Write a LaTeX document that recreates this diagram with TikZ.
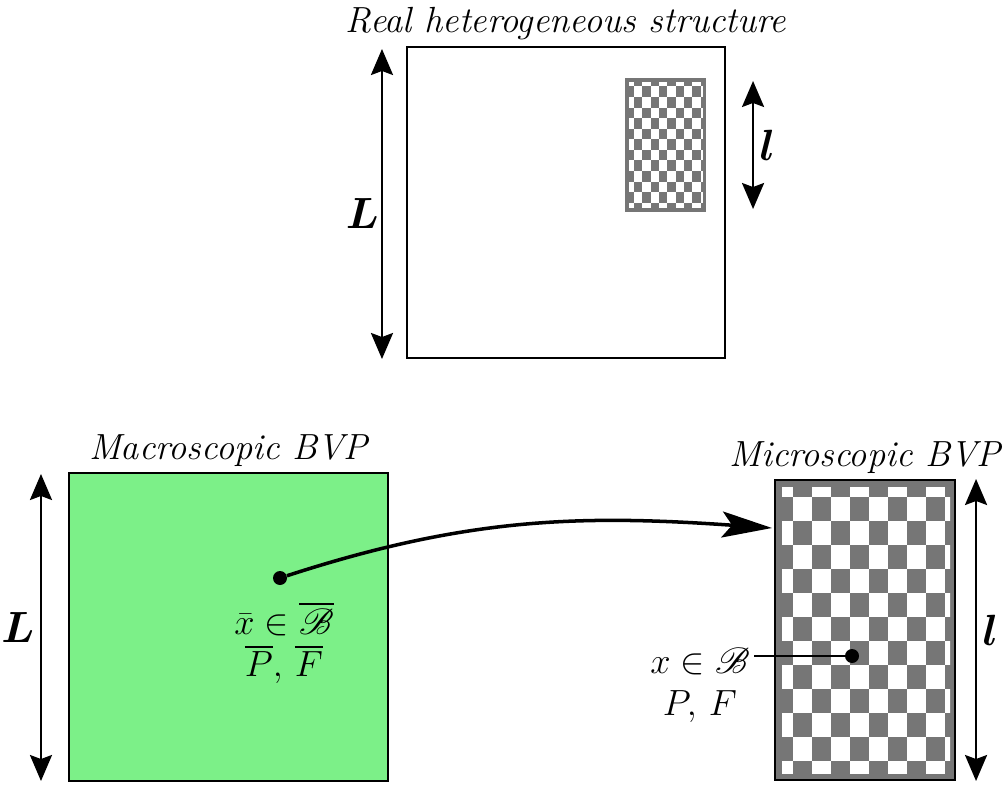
\documentclass[tikz,border=0pt]{standalone}
\usepackage{amsmath,amssymb}
\usepackage{mathrsfs}
\usepackage{xcolor}
\usepackage{tikz}
\usetikzlibrary{arrows.meta,positioning,calc}
\definecolor{macrogreen}{RGB}{124,240,136}
\definecolor{cellgray}{RGB}{118,118,118}

% checker pattern, local frame 180 x 300 (y down)
\newcommand{\checkerboard}{%
  \fill[cellgray] (0,0) rectangle (180,300);
  \begin{scope}
    \clip (7,7) rectangle (175,293);
    \foreach \r in {0,...,12}
      \foreach \c in {0,...,9}{
        \pgfmathtruncatemacro{\cellpar}{mod(\r+\c,2)}
        \ifnum\cellpar=0
          \fill[white] (\c*19-1,\r*24-7) rectangle ++(19,24);
        \fi
      }
  \end{scope}
}

\begin{document}
\begin{tikzpicture}[
    x=0.02cm, y=-0.02cm,
    box/.style={rectangle, draw, line width=1.2pt, inner sep=0pt},
    title/.style={font=\fontsize{20.7}{24}\selectfont\itshape, inner sep=2pt},
    lab/.style={font=\fontsize{21}{26}\selectfont, align=center, inner sep=2pt},
    dimlab/.style={font=\fontsize{27}{30}\selectfont, inner sep=2pt},
    dim/.style={{Stealth[length=0.52cm,width=0.44cm,inset=0.08cm]}-{Stealth[length=0.52cm,width=0.44cm,inset=0.08cm]}, line width=1.4pt},
    arr/.style={-{Stealth[length=1cm,width=0.52cm,inset=0.2cm]}, line width=2pt},
    dot/.style={circle, fill, inner sep=0pt, minimum size=0.28cm}
]
    \useasboundingbox (0,0) rectangle (1007,787);

    % real structure
    \node[box, minimum width=6.36cm, minimum height=6.22cm] (real) at (566,202.5) {};
    \begin{scope}[shift={(626,79)}, xscale=0.439, yscale=0.44]
        \checkerboard
    \end{scope}
    \node[box, draw=cellgray, minimum width=1.58cm, minimum height=2.64cm] (cell) at (665.5,145) {};
    \node[title, above=0.04cm of real] (realtitle) {Real heterogeneous structure};
    \draw[dim] ($(real.north west)+(-24,3)$) -- node[pos=0.53, left=-1pt, dimlab] (Ltop) {$\boldsymbol{L}$} ($(real.south west)+(-24,0)$);
    \draw[dim] ($(cell.north east)+(47,3)$) -- node[right=1pt, dimlab] (ltop) {$\boldsymbol{l}$} ($(cell.south east)+(47,-3)$);

    % macroscopic problem
    \node[box, fill=macrogreen, minimum width=6.38cm, minimum height=6.16cm] (macro) at (228.5,627) {};
    \node[title, above=0.04cm of macro] (macrotitle) {Macroscopic BVP};
    \draw[dim] ($(macro.north west)+(-27,2)$) -- node[left=1pt, dimlab] (Lbot) {$\boldsymbol{L}$} ($(macro.south west)+(-27,-1)$);
    \node[dot] (xbar) at (280,578) {};
    \node[lab] (maclab) at (284,643) {$\bar{x}\in\overline{\mathscr{B}}$\\[-2pt]$\overline{P},\,\overline{F}$};

    % microscopic problem
    \begin{scope}[shift={(775,480)}]
        \checkerboard
    \end{scope}
    \node[box, minimum width=3.6cm, minimum height=6cm] (micro) at (865,630) {};
    \node[title, above=0.04cm of micro] (microtitle) {Microscopic BVP};
    \draw[dim] ($(micro.north east)+(20,0)$) -- node[right=1pt, dimlab] (lbot) {$\boldsymbol{l}$} ($(micro.south east)+(20,0)$);
    \node[dot] (xmic) at (852,656) {};
    \node[lab] (miclab) at (700,685) {$x\in\mathscr{B}$\\[-2pt]$P,\,F$};
    \draw[line width=1.6pt] (xmic) -- (xmic -| miclab.east);

    \coordinate (tip) at (772,528);
    \draw[arr] (xbar) to[out=18, in=176] (tip);
\end{tikzpicture}
\end{document}
